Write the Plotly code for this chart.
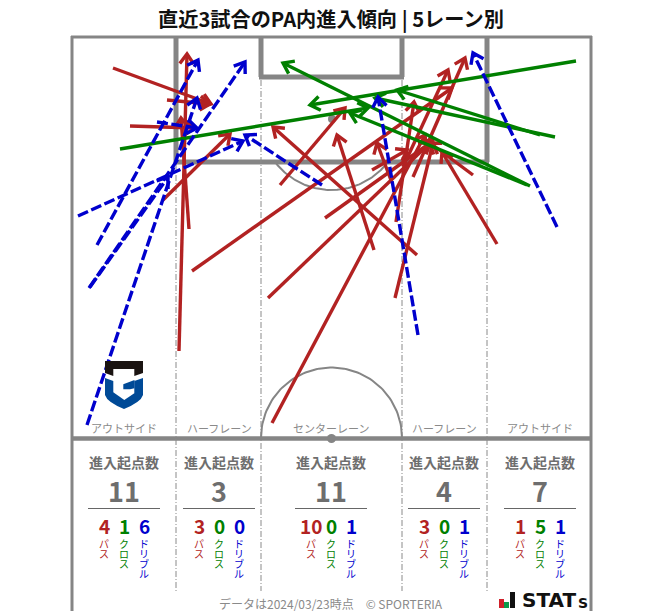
import math
import numpy as np
import plotly.graph_objects as go

GRAY = "#858585"
RED = "#b22222"
GREEN = "#008000"
BLUE = "#0000cd"

pass_start = [(113,68),(167,100),(130,126),(163,200),(179,351),(189,229),(192,271),(272,423),(280,185),(374,250),
              (268,298),(395,298),(396,222),(325,218),(392,183),(372,170),(403,167),(417,255),(473,175),(413,177),(497,244)]
pass_end = [(211,104),(210,104),(195,128),(230,134),(187,54),(181,118),(452,88),(425,135),(345,108),(337,135),
            (433,140),(433,143),(414,102),(430,143),(377,143),(407,150),(448,70),(273,127),(430,143),(465,58),(442,152)]
cross_start = [(120,149),(576,61),(530,186),(555,137),(540,135),(527,185)]
cross_end = [(368,108),(310,105),(283,63),(375,98),(397,90),(350,113)]
drib_start = [(78,216),(97,245),(89,288),(87,425),(157,122),(90,287),(322,185),(418,335),(557,227)]
drib_end = [(243,141),(198,60),(245,62),(197,98),(197,128),(168,177),(245,135),(378,97),(473,53)]

lane_x = [124, 219, 331, 444, 540]
lane_names = ["アウトサイド", "ハーフレーン", "センターレーン", "ハーフレーン", "アウトサイド"]
totals = [11, 3, 11, 4, 7]
pass_counts = [4, 3, 10, 3, 1]
cross_counts = [1, 0, 0, 0, 5]
drib_counts = [6, 0, 1, 1, 1]
kinds = ["パス", "クロス", "ドリブル"]
kind_colors = [RED, GREEN, BLUE]
lane_lines = [176, 261, 402, 487]

FONT = "Noto Sans CJK JP"
fig = go.Figure()

def arc(cx, cy, r, a0, a1):
    t = np.radians(np.linspace(a0, a1, 80))
    fig.add_trace(go.Scatter(x=cx + r*np.cos(t), y=cy + r*np.sin(t), mode="lines", showlegend=False,
                             line=dict(color=GRAY, width=2), hoverinfo="skip"))

arc(331.5, 438, 70.5, 180, 360)
arc(331.5, 119, 71, 38, 142)

def arrows(starts, ends, color, dash, name):
    for (x0, y0), (x1, y1) in zip(starts, ends):
        a = math.atan2(y1 - y0, x1 - x0)
        L, w = 12, 0.62
        hx = [x1 - L*math.cos(a - w), x1, x1 - L*math.cos(a + w)]
        hy = [y1 - L*math.sin(a - w), y1, y1 - L*math.sin(a + w)]
        fig.add_trace(go.Scatter(x=[x0, x1], y=[y0, y1], mode="lines", name=name, showlegend=False,
                                 line=dict(color=color, width=3.4, dash=dash), hoverinfo="skip"))
        fig.add_trace(go.Scatter(x=hx, y=hy, mode="lines", name=name, showlegend=False,
                                 line=dict(color=color, width=3.4), hoverinfo="skip"))

arrows(pass_start, pass_end, RED, "solid", "パス")
arrows(cross_start, cross_end, GREEN, "solid", "クロス")
arrows(drib_start, drib_end, BLUE, "11px,3.5px", "ドリブル")

shapes = []
def line(x0, y0, x1, y1, w, color=GRAY, dash=None, layer="below"):
    shapes.append(dict(type="line", x0=x0, y0=y0, x1=x1, y1=y1, layer=layer,
                       line=dict(color=color, width=w, dash=dash or "solid")))

# frame
line(72, 36, 72, 611, 3)
line(591, 36, 591, 611, 3)
line(71, 37, 592, 37, 3)
line(71, 438.5, 592, 438.5, 4.5)
# boxes
line(176, 37, 176, 162, 5)
line(487, 37, 487, 162, 5)
line(174, 162, 489, 162, 5)
line(261, 37, 261, 77, 5)
line(402, 37, 402, 77, 5)
line(259, 77, 404, 77, 5)
# lanes
for x in lane_lines:
    line(x, 80 if x in (261, 402) else 164, x, 591, 1, "#8a8a8a", "6px,2px,1px,2px")
shapes.append(dict(type="circle", layer="below", x0=327, x1=336, y0=434, y1=443,
                   fillcolor=GRAY, line=dict(width=0)))
shapes.append(dict(type="circle", layer="below", x0=328, x1=336, y0=115, y1=123,
                   fillcolor=GRAY, line=dict(width=0)))
# underlines
for x in lane_x:
    line(x - 36, 508.5, x + 36, 508.5, 1, "#666666")
# club crest
def poly(path, fill):
    shapes.append(dict(type="path", layer="above", fillcolor=fill, line=dict(width=0), path=path))
poly("M 105 361 L 143 361 L 143 373 L 134.3 376 L 134.3 369 L 113.3 369 L 113.3 376 L 105 373 Z", "#1a1311")
poly("M 105 378 L 113.3 381 L 134.3 381 L 143 378 L 143 395 Q 141 402 124 409 Q 107 402 105 395 Z", "#004a97")
poly("M 113.3 376 L 134.3 376 L 134.3 393.3 L 124.3 400 L 113.3 392.3 Z", "#ffffff")
poly("M 123.3 384.3 L 134.5 380 L 134.5 388.3 L 130 389.3 L 123.3 389.3 Z", "#004a97")
# STATS logo bars
poly("M 499 599 L 504 599 L 504 608 L 499 608 Z", "#d0202a")
poly("M 504 602 L 509 602 L 509 608 L 504 608 Z", "#0a9a4a")
poly("M 510 592 L 515 592 L 515 608 L 510 608 Z", "#111111")

ann = []
def text(x, y, s, size, color, bold=False):
    ann.append(dict(x=x, y=y, text=f"<b>{s}</b>" if bold else s, showarrow=False, xref="x", yref="y",
                    xanchor="center", yanchor="middle",
                    font=dict(family=FONT, size=size, color=color)))

def stacked(x, y, s, color):
    # tight vertical stack: line pitch comes from the small base size, glyphs from the span
    body = "<br>".join(f'<span style="font-size:10px">{c}</span>' for c in s)
    ann.append(dict(x=x, y=y, text=body, showarrow=False, xref="x", yref="y", xanchor="center", yanchor="top",
                    borderpad=0, font=dict(family=FONT, size=7.7, color=color)))

text(331, 18, "直近3試合のPA内進入傾向 | 5レーン別", 20.2, "#111111", True)
for i, x in enumerate(lane_x):
    text(x, 428, lane_names[i], 11, "#8a8a8a")
    text(x, 461.5, "進入起点数", 14, "#6e6e6e", True)
    text(x, 490.5, str(totals[i]), 27, "#6e6e6e", True)
    counts = [pass_counts[i], cross_counts[i], drib_counts[i]]
    for j in range(3):
        cx = x + (j - 1) * 20
        text(cx, 525.5, str(counts[j]), 19, kind_colors[j], True)
        stacked(cx, 535, kinds[j], kind_colors[j])
text(331, 603.5, "データは2024/03/23時点　© SPORTERIA", 12, "#8a8a8a")
ann.append(dict(x=520, y=608.5, text="<b>STAT</b>", showarrow=False, xref="x", yref="y", xanchor="left",
                yanchor="bottom", yshift=-5, font=dict(family="DejaVu Sans", size=20, color="#111111")))
ann.append(dict(x=575.5, y=608.5, text="<b>S</b>", showarrow=False, xref="x", yref="y", xanchor="left",
                yanchor="bottom", yshift=-4, font=dict(family="DejaVu Sans", size=14, color="#111111")))

fig.update_layout(width=663, height=611, autosize=False, margin=dict(l=0, r=0, t=0, b=0),
                  paper_bgcolor="white", plot_bgcolor="white", shapes=shapes, annotations=ann, showlegend=False,
                  xaxis=dict(range=[0, 663], visible=False, fixedrange=True),
                  yaxis=dict(range=[611, 0], visible=False, fixedrange=True))
fig.write_html("out.html", config=dict(displayModeBar=False),
               post_script="document.body.style.margin='0';document.documentElement.style.overflow='hidden';")
